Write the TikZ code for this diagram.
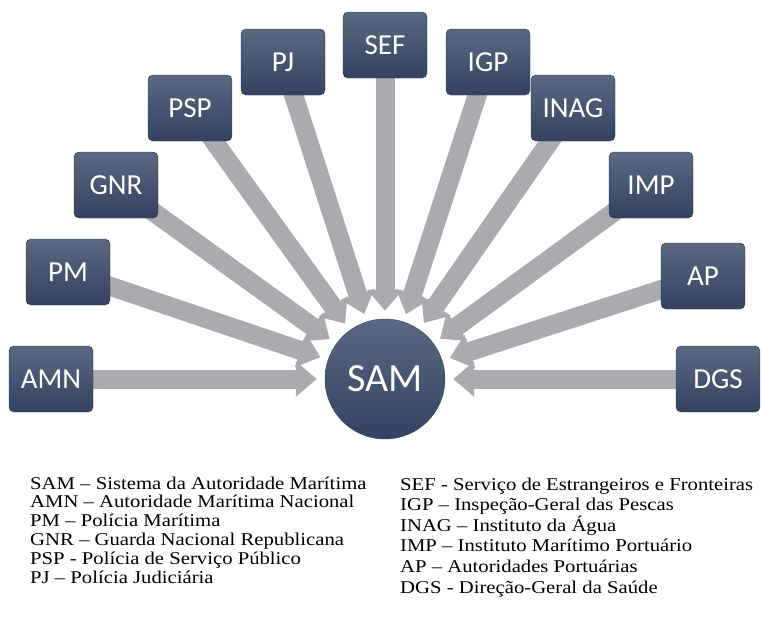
\documentclass[tikz,border=0pt]{standalone}
\usepackage{fontspec}
\setmainfont{Liberation Serif}
\newfontfamily\boxfont{Carlito}
\newfontfamily\legendfont[FakeStretch=1.15]{Liberation Serif}
\usepackage{tikz}
\usetikzlibrary{arrows.meta, positioning, backgrounds}
\definecolor{boxtop}{RGB}{90,105,130}
\definecolor{boxbottom}{RGB}{50,66,96}
\definecolor{flowgray}{RGB}{170,171,177}

\begin{document}
\begin{tikzpicture}[
    x=1pt, y=-1pt,
    agency/.style={rounded corners=5pt, top color=boxtop, bottom color=boxbottom, draw=boxbottom!80!black, line width=0.4pt, minimum width=84pt, minimum height=66pt, text=white, font=\boxfont\fontsize{29}{31}\selectfont},
    hub/.style={circle, top color=boxtop, bottom color=boxbottom, draw=boxbottom, minimum size=120pt, text=white, font=\boxfont\fontsize{40}{42}\selectfont},
    feed/.style={-{Triangle[width=34pt, length=21pt]}, line width=19pt, flowgray, shorten >=8pt},
    legend/.style={anchor=base west, inner sep=0pt, text height=12pt, text depth=3.5pt, font=\legendfont\fontsize{18}{20}\selectfont}
]
    \useasboundingbox (0,0) rectangle (761,624);

    % Central authority
    \node[hub] (sam) at (385,379) {SAM};

    % Agencies around it
    \node[agency] (amn) at (51,379) {AMN};
    \node[agency] (pm) at (68,272) {PM};
    \node[agency] (gnr) at (116,185) {GNR};
    \node[agency] (psp) at (190,108) {PSP};
    \node[agency] (pj) at (283,62) {PJ};
    \node[agency] (sef) at (385,45) {SEF};
    \node[agency] (igp) at (488,62) {IGP};
    \node[agency] (inag) at (573,108) {INAG};
    \node[agency] (imp) at (651,185) {IMP};
    \node[agency] (ap) at (703,276) {AP};
    \node[agency] (dgs) at (718,379) {DGS};

    % Arrows into SAM
    \begin{scope}[on background layer]
        \foreach \src in {amn,pm,gnr,psp,pj,sef,igp,inag,imp,ap,dgs}
            \draw[feed] (\src.center) -- (sam);
    \end{scope}

    % Legend
    \foreach \t [count=\i] in {SAM – Sistema da Autoridade Marítima,
        AMN – Autoridade Marítima Nacional,
        PM – Polícia Marítima,
        GNR – Guarda Nacional Republicana,
        PSP - Polícia de Serviço Público,
        PJ – Polícia Judiciária}
        \node[legend] (left\i) at (30,{489+18.8*(\i-1)}) {\t};
    \foreach \t [count=\i] in {SEF - Serviço de Estrangeiros e Fronteiras,
        IGP – Inspeção-Geral das Pescas,
        INAG – Instituto da Água,
        IMP – Instituto Marítimo Portuário,
        AP – Autoridades Portuárias,
        DGS - Direção-Geral da Saúde}
        \node[legend] (right\i) at (400,{490+20.6*(\i-1)}) {\t};
\end{tikzpicture}
\end{document}
